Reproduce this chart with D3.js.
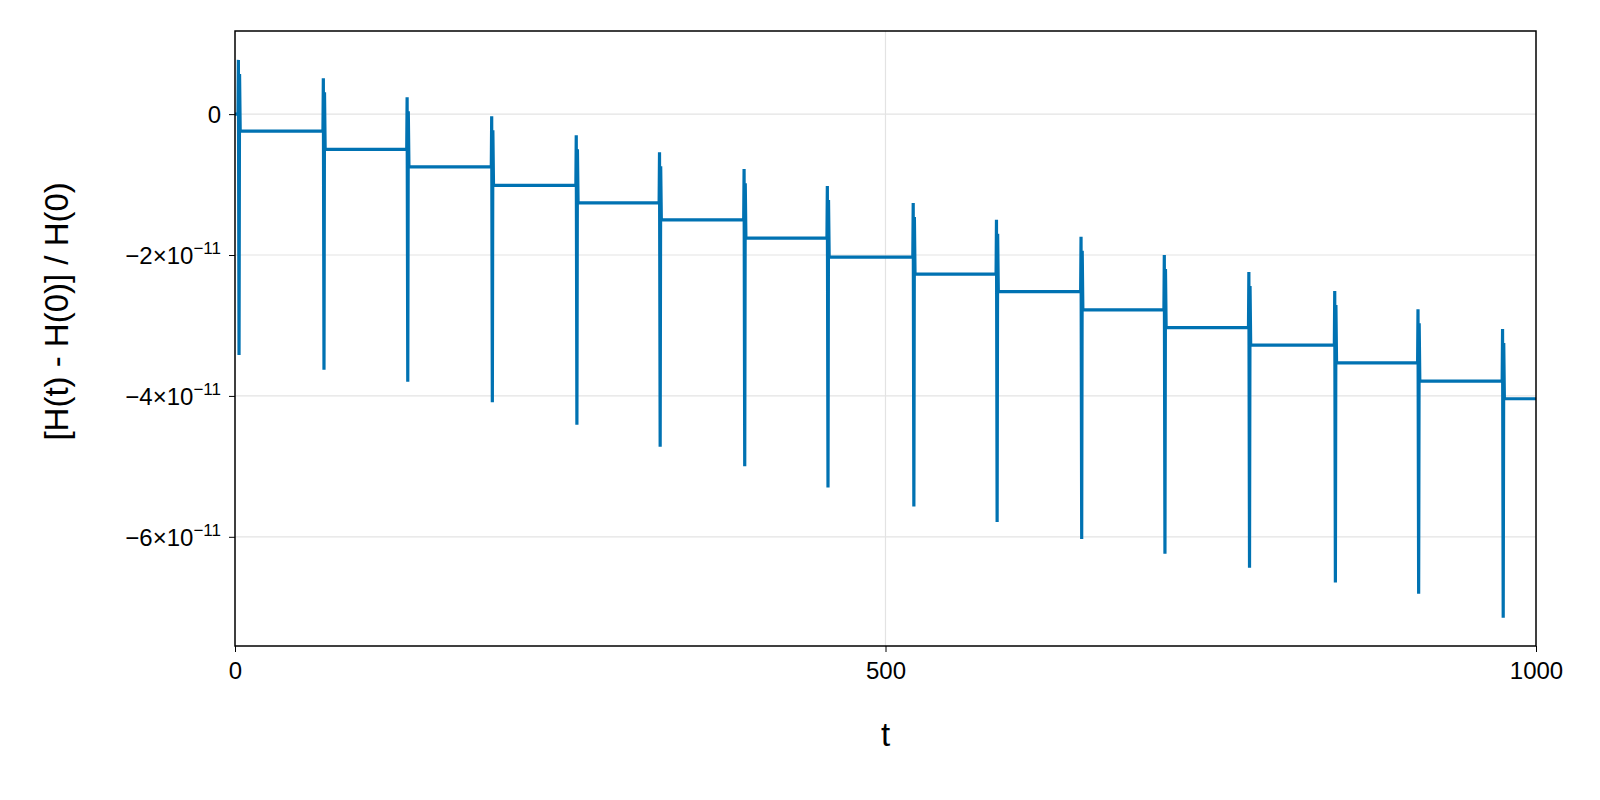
<!DOCTYPE html><html><head><meta charset="utf-8">
<script src="https://cdn.jsdelivr.net/npm/d3@7"></script>
<style>body{margin:0;background:#fff}</style></head><body>
<script>
const spikeT=[2.3,67.6,132,197,262,326,391,455,521,585,650,714,779,845,909,974];
const spikeTop=[0.77,0.51,0.24,-0.03,-0.30,-0.54,-0.78,-1.02,-1.26,-1.50,-1.74,-2.00,-2.24,-2.51,-2.77,-3.05];
const spikeBottom=[-3.42,-3.63,-3.80,-4.09,-4.41,-4.72,-5.00,-5.30,-5.57,-5.79,-6.03,-6.24,-6.44,-6.65,-6.81,-7.15];
const levels=[-0.24,-0.50,-0.75,-1.01,-1.26,-1.50,-1.76,-2.03,-2.27,-2.52,-2.78,-3.03,-3.28,-3.53,-3.79,-4.04];
const yTicks=[0,-2,-4,-6];
const xTicks=[0,500,1000];
const W=1600,H=800,m={l:235,r:64,t:31,b:154};
const svg=d3.select("body").append("svg").attr("width",W).attr("height",H).style("font-family","'Liberation Sans',Arial,sans-serif");
const x=d3.scaleLinear().domain([0,1000]).range([m.l,W-m.r]);
const y=d3.scaleLinear().domain([-7.55,1.18]).range([H-m.b,m.t]);
const g=svg.append("g");
g.selectAll(".gx").data([500]).join("line").attr("x1",d=>x(d)).attr("x2",d=>x(d)).attr("y1",m.t).attr("y2",H-m.b).attr("stroke","#e3e3e3").attr("stroke-width",1.2);
g.selectAll(".gy").data(yTicks).join("line").attr("x1",m.l).attr("x2",W-m.r).attr("y1",d=>y(d)).attr("y2",d=>y(d)).attr("stroke","#e3e3e3").attr("stroke-width",1.2);
const pts=[[0,0]];
let prev=0;
spikeT.forEach((t,i)=>{
  pts.push([t,prev],[t+0.3,spikeTop[i]],[t+0.8,spikeBottom[i]],[t+1.2,spikeTop[i]-0.2],[t+1.7,levels[i]]);
  prev=levels[i];
});
pts.push([1000,prev]);
svg.append("defs").append("clipPath").attr("id","c").append("rect").attr("x",m.l).attr("y",m.t).attr("width",W-m.l-m.r).attr("height",H-m.t-m.b);
g.append("path").datum(pts).attr("clip-path","url(#c)").attr("fill","none").attr("stroke","#0072b2").attr("stroke-width",3.2).attr("stroke-linejoin","miter")
 .attr("d",d3.line().x(d=>x(d[0])).y(d=>y(d[1])));
g.append("rect").attr("x",m.l).attr("y",m.t).attr("width",W-m.l-m.r).attr("height",H-m.t-m.b).attr("fill","none").attr("stroke","#000").attr("stroke-width",1.5);
const ax=g.append("g").attr("transform",`translate(0,${H-m.b})`).call(d3.axisBottom(x).tickValues(xTicks).tickSize(6).tickFormat(d3.format("d")));
ax.select(".domain").remove();ax.selectAll("text").attr("font-size",24).attr("fill","#000").attr("dy","1.0em");
const ay=g.append("g").attr("transform",`translate(${m.l},0)`).call(d3.axisLeft(y).tickValues(yTicks).tickSize(6).tickFormat(""));
ay.select(".domain").remove();
ay.selectAll(".tick").each(function(d){
  const t=d3.select(this).append("text").attr("x",-14).attr("dy","0.35em").attr("text-anchor","end").attr("font-size",24).attr("fill","#000");
  if(d===0){t.text("0");}else{t.append("tspan").text("\u2212"+(-d)+"\u00d710");t.append("tspan").attr("font-size",17).attr("dy","-0.6em").text("\u221211");}
});
svg.append("text").attr("x",x(500)).attr("y",746).attr("text-anchor","middle").attr("font-size",33).text("t");
svg.append("text").attr("transform",`translate(68,${y(-2.8)}) rotate(-90)`).attr("text-anchor","middle").attr("font-size",33).text("[H(t) - H(0)] / H(0)");
</script></body></html>
